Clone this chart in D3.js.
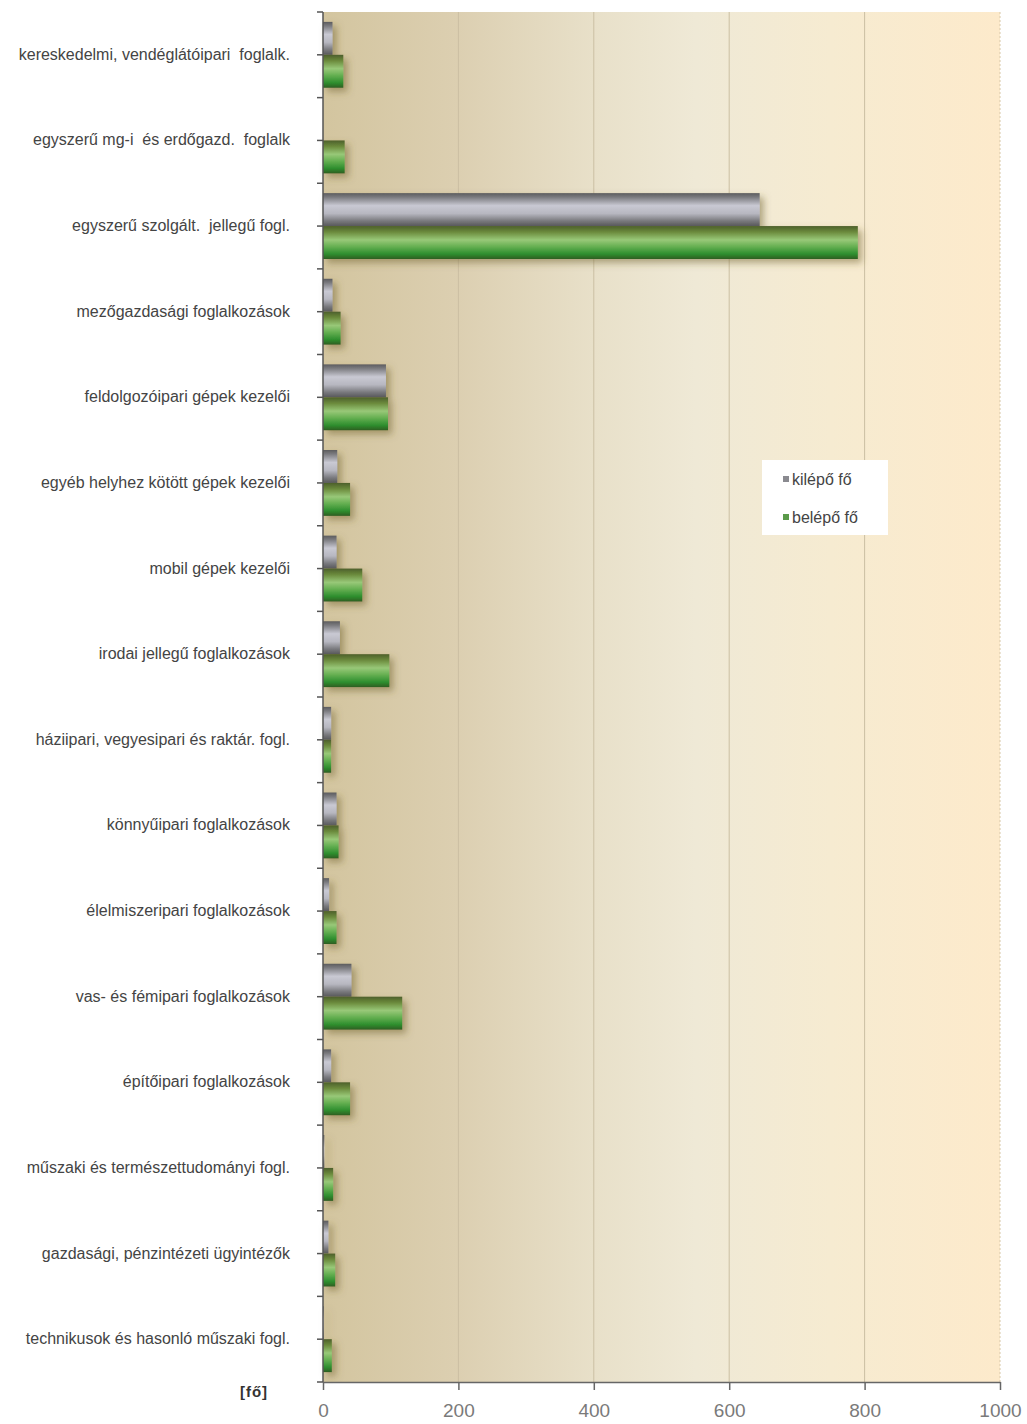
<!DOCTYPE html>
<html><head><meta charset="utf-8">
<script src="https://cdn.jsdelivr.net/npm/d3@7"></script>
<style>body{margin:0;background:#fff}svg{display:block}text{font-family:"Liberation Sans",Arial,sans-serif;white-space:pre}</style>
</head><body>
<svg id="chart" width="1027" height="1424"></svg>
<script>
const categories = [
  "kereskedelmi, vendéglátóipari  foglalk.",
  "egyszerű mg-i  és erdőgazd.  foglalk",
  "egyszerű szolgált.  jellegű fogl.",
  "mezőgazdasági foglalkozások",
  "feldolgozóipari gépek kezelői",
  "egyéb helyhez kötött gépek kezelői",
  "mobil gépek kezelői",
  "irodai jellegű foglalkozások",
  "háziipari, vegyesipari és raktár. fogl.",
  "könnyűipari foglalkozások",
  "élelmiszeripari foglalkozások",
  "vas- és fémipari foglalkozások",
  "építőipari foglalkozások",
  "műszaki és természettudományi fogl.",
  "gazdasági, pénzintézeti ügyintézők",
  "technikusok és hasonló műszaki fogl."
];
const kilepo = [14, 0, 645, 14, 93, 21, 20, 25, 12, 20, 9, 42, 12, 2, 8, 1];
const belepo = [30, 32, 790, 26, 96, 40, 58, 98, 12, 23, 20, 117, 40, 15, 18, 13];
const seriesNames = ["kilépő fő", "belépő fő"];
const xTicks = [0, 200, 400, 600, 800, 1000];
const unitLabel = "[fő]";

(function () {
const svg = d3.select("#chart");
const pL = 323, pR = 1000, pT = 12, pB = 1382;
const x = d3.scaleLinear().domain([0, 1000]).range([pL, pR]);
const y = d3.scaleBand().domain(categories).range([pT, pB]).padding(0);
const ys = d3.scaleBand().domain(seriesNames).range([0, y.bandwidth()]).paddingInner(0).paddingOuter(0.3);

const defs = svg.append("defs");
const bg = defs.append("linearGradient").attr("id", "bg").attr("x1", 0).attr("x2", 1).attr("y1", 0).attr("y2", 0);
[[0, "#d3c59f"], [0.2, "#dccfb1"], [0.4, "#e8e0c9"], [0.55, "#efe9d6"], [0.75, "#f6ebd1"], [1, "#fdeacb"]]
  .forEach(([o, c]) => bg.append("stop").attr("offset", o).attr("stop-color", c));
const gg = defs.append("linearGradient").attr("id", "grey").attr("x1", 0).attr("x2", 0).attr("y1", 0).attr("y2", 1);
[[0, "#5c5c5e"], [0.12, "#7a7a7e"], [0.38, "#c9c9d3"], [0.62, "#b7b7c0"], [0.85, "#78787c"], [1, "#58585a"]]
  .forEach(([o, c]) => gg.append("stop").attr("offset", o).attr("stop-color", c));
const gn = defs.append("linearGradient").attr("id", "green").attr("x1", 0).attr("x2", 0).attr("y1", 0).attr("y2", 1);
[[0, "#4d5f2b"], [0.18, "#6b8a3c"], [0.42, "#98c878"], [0.62, "#66b052"], [0.85, "#2e8e2e"], [1, "#2d5e22"]]
  .forEach(([o, c]) => gn.append("stop").attr("offset", o).attr("stop-color", c));
const f = defs.append("filter").attr("id", "sh").attr("x", "-20%").attr("y", "-30%").attr("width", "160%").attr("height", "170%");
f.append("feDropShadow").attr("dx", 4).attr("dy", 4).attr("stdDeviation", 3.5).attr("flood-color", "#6e5e28").attr("flood-opacity", 0.5);

svg.append("rect").attr("x", pL).attr("y", pT).attr("width", pR - pL).attr("height", pB - pT).attr("fill", "url(#bg)");

svg.append("g").selectAll("line").data(xTicks.filter(d => d > 0)).join("line")
  .attr("x1", d => x(d)).attr("x2", d => x(d)).attr("y1", pT).attr("y2", pB)
  .attr("stroke", d => d === 1000 ? "#d8c8a8" : "#cbbfa3").attr("stroke-width", 1)
  .attr("stroke-dasharray", d => d === 1000 ? "2,2" : null);

const data = categories.map((c, i) => ({ c, vals: [kilepo[i], belepo[i]] }));
const grp = svg.append("g").attr("filter", "url(#sh)");
data.forEach(d => {
  d.vals.forEach((v, j) => {
    if (v <= 0) return;
    grp.append("rect")
      .attr("x", x(0)).attr("y", y(d.c) + ys(seriesNames[j]))
      .attr("width", x(v) - x(0)).attr("height", ys.bandwidth())
      .attr("fill", j === 0 ? "url(#grey)" : "url(#green)");
  });
});

const tickYs = [];
categories.forEach(c => { tickYs.push(y(c)); tickYs.push(y(c) + y.bandwidth() / 2); });
tickYs.push(pB);
svg.append("g").selectAll("line").data(tickYs).join("line")
  .attr("x1", pL - 6).attr("x2", pL).attr("y1", d => d).attr("y2", d => d)
  .attr("stroke", "#555").attr("stroke-width", 1.5);
svg.append("line").attr("x1", pL).attr("x2", pL).attr("y1", pT).attr("y2", pB).attr("stroke", "#555").attr("stroke-width", 1.5);

svg.append("g").selectAll("text").data(categories).join("text")
  .attr("x", 290).attr("y", d => y(d) + y.bandwidth() / 2 + 5)
  .attr("text-anchor", "end")
  .attr("font-size", 16).attr("fill", "#444").text(d => d);

const xa = svg.append("g").attr("transform", `translate(0,${pB})`)
  .call(d3.axisBottom(x).tickValues(xTicks).tickFormat(d3.format("d")).tickSize(8).tickSizeOuter(0));
xa.attr("font-family", null);
xa.select(".domain").attr("stroke", "#666").attr("stroke-width", 1.5);
xa.selectAll(".tick line").attr("stroke", "#666").attr("stroke-width", 1.5);
xa.selectAll(".tick text").attr("font-size", 19)
  .attr("fill", "#7a7a7a").attr("y", 22).attr("dy", "0.71em");

svg.append("text").attr("x", 254).attr("y", 1397).attr("text-anchor", "middle")
  .attr("font-weight", "bold")
  .attr("font-size", 15).attr("fill", "#333").attr("letter-spacing", 1).text(unitLabel);

const lg = svg.append("g");
lg.append("rect").attr("x", 762).attr("y", 460).attr("width", 126).attr("height", 75).attr("fill", "#fff");
const legColors = ["#8a8a90", "#5a9a4a"];
seriesNames.forEach((s, i) => {
  const ly = 485 + i * 38;
  lg.append("rect").attr("x", 783).attr("y", ly - 9).attr("width", 6).attr("height", 6).attr("fill", legColors[i]);
  lg.append("text").attr("x", 792).attr("y", ly)
    .attr("font-size", 16).attr("fill", "#444").text(s);
});
})();
</script>
</body></html>
